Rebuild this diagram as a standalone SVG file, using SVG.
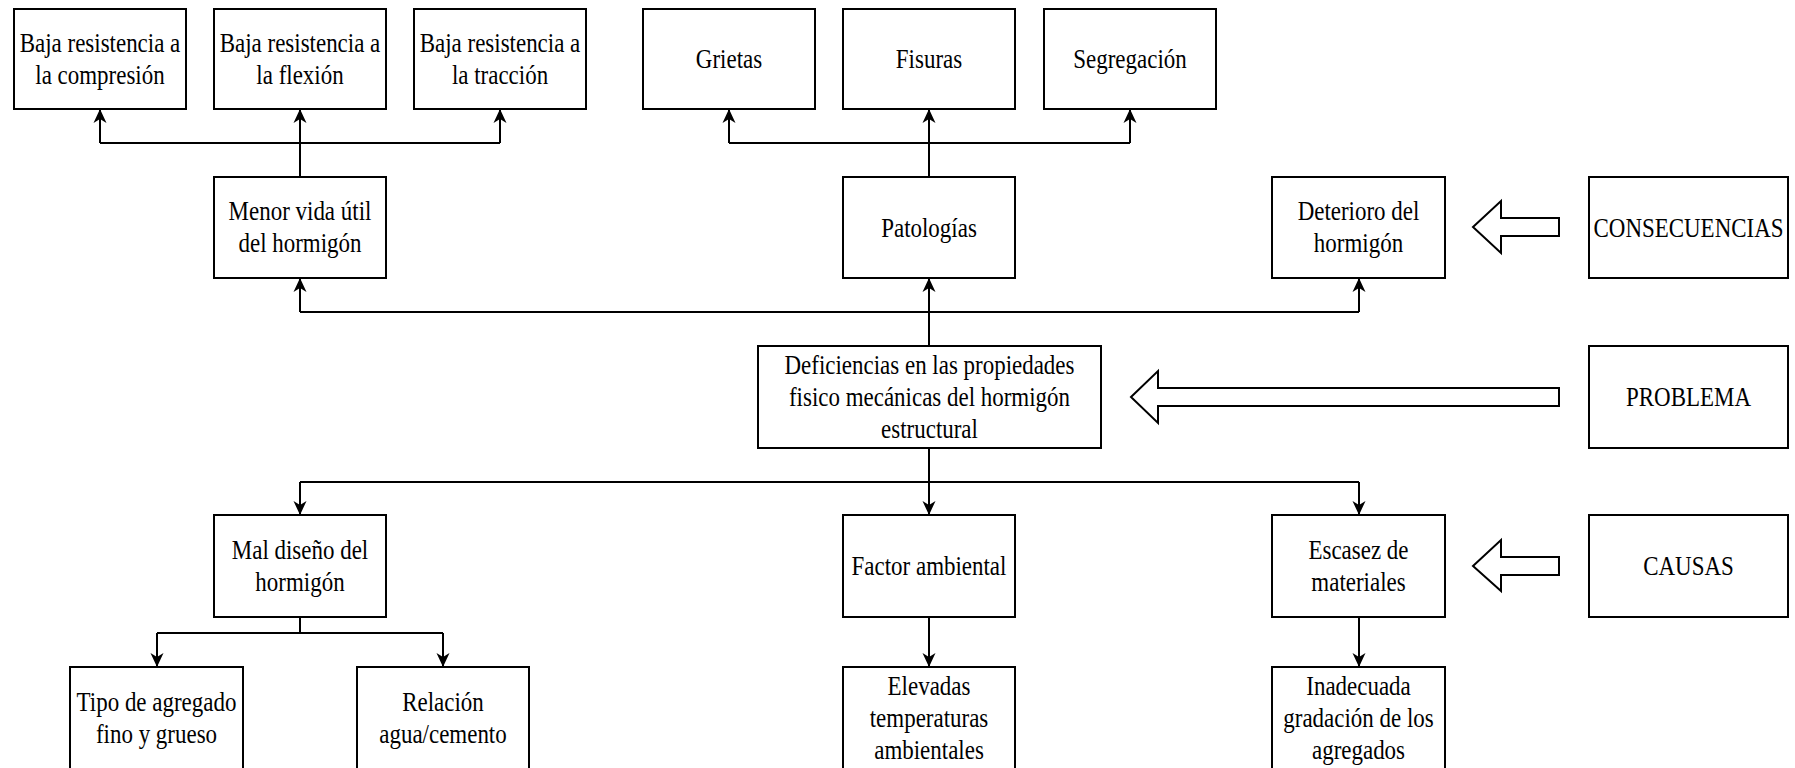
<svg xmlns="http://www.w3.org/2000/svg" width="1795" height="768" viewBox="0 0 1795 768">
<style>
.box{fill:#fff;stroke:#000;stroke-width:2}
.t{font-family:"Liberation Serif","Times New Roman",serif;font-size:28px;fill:#000;text-anchor:middle}
.c{fill:none;stroke:#000;stroke-width:2}
.blk{fill:#fff;stroke:#000;stroke-width:2;stroke-linejoin:miter}
</style>
<defs>
<marker id="ah" viewBox="0 0 14 14" refX="13" refY="7" markerWidth="14" markerHeight="14" markerUnits="userSpaceOnUse" orient="auto">
<path d="M0,0.5 L14,7 L0,13.5 L4,7 Z" fill="#000"/>
</marker>
</defs>
<rect width="1795" height="768" fill="#fff"/>

<g id="connectors">
<path class="c" d="M300,177 V143 M100,143 H500"/>
<path class="c" d="M100,143 V110" marker-end="url(#ah)"/>
<path class="c" d="M300,143 V110" marker-end="url(#ah)"/>
<path class="c" d="M500,143 V110" marker-end="url(#ah)"/>
<path class="c" d="M929,177 V143 M729,143 H1130"/>
<path class="c" d="M729,143 V110" marker-end="url(#ah)"/>
<path class="c" d="M929,143 V110" marker-end="url(#ah)"/>
<path class="c" d="M1130,143 V110" marker-end="url(#ah)"/>
<path class="c" d="M929,346 V312 M300,312 H1359"/>
<path class="c" d="M300,312 V279" marker-end="url(#ah)"/>
<path class="c" d="M929,312 V279" marker-end="url(#ah)"/>
<path class="c" d="M1359,312 V279" marker-end="url(#ah)"/>
<path class="c" d="M929,448 V482 M300,482 H1359"/>
<path class="c" d="M300,482 V514" marker-end="url(#ah)"/>
<path class="c" d="M929,482 V514" marker-end="url(#ah)"/>
<path class="c" d="M1359,482 V514" marker-end="url(#ah)"/>
<path class="c" d="M300,617 V633 M157,633 H443"/>
<path class="c" d="M157,633 V666" marker-end="url(#ah)"/>
<path class="c" d="M443,633 V666" marker-end="url(#ah)"/>
<path class="c" d="M929,617 V666" marker-end="url(#ah)"/>
<path class="c" d="M1359,617 V666" marker-end="url(#ah)"/>
<polygon class="blk" points="1473,227 1501,201 1501,218 1559,218 1559,236 1501,236 1501,253"/>
<polygon class="blk" points="1131,397 1158,371 1158,388 1559,388 1559,406 1158,406 1158,423"/>
<polygon class="blk" points="1473,566 1501,540 1501,557 1559,557 1559,575 1501,575 1501,591"/>
</g>

<g id="n1"><rect class="box" x="14" y="9" width="172" height="100"/><text class="t" transform="matrix(0.82 0 0 1 100 0)"><tspan x="0" y="52">Baja resistencia a</tspan><tspan x="0" y="84">la compresión</tspan></text></g>
<g id="n2"><rect class="box" x="214" y="9" width="172" height="100"/><text class="t" transform="matrix(0.82 0 0 1 300 0)"><tspan x="0" y="52">Baja resistencia a</tspan><tspan x="0" y="84">la flexión</tspan></text></g>
<g id="n3"><rect class="box" x="414" y="9" width="172" height="100"/><text class="t" transform="matrix(0.82 0 0 1 500 0)"><tspan x="0" y="52">Baja resistencia a</tspan><tspan x="0" y="84">la tracción</tspan></text></g>
<g id="n4"><rect class="box" x="643" y="9" width="172" height="100"/><text class="t" transform="matrix(0.82 0 0 1 729 0)"><tspan x="0" y="68">Grietas</tspan></text></g>
<g id="n5"><rect class="box" x="843" y="9" width="172" height="100"/><text class="t" transform="matrix(0.82 0 0 1 929 0)"><tspan x="0" y="68">Fisuras</tspan></text></g>
<g id="n6"><rect class="box" x="1044" y="9" width="172" height="100"/><text class="t" transform="matrix(0.82 0 0 1 1130 0)"><tspan x="0" y="68">Segregación</tspan></text></g>

<g id="n7"><rect class="box" x="214" y="177" width="172" height="101"/><text class="t" transform="matrix(0.82 0 0 1 300 0)"><tspan x="0" y="220">Menor vida útil</tspan><tspan x="0" y="252">del hormigón</tspan></text></g>
<g id="n8"><rect class="box" x="843" y="177" width="172" height="101"/><text class="t" transform="matrix(0.82 0 0 1 929 0)"><tspan x="0" y="237">Patologías</tspan></text></g>
<g id="n9"><rect class="box" x="1272" y="177" width="173" height="101"/><text class="t" transform="matrix(0.82 0 0 1 1358.5 0)"><tspan x="0" y="220">Deterioro del</tspan><tspan x="0" y="252">hormigón</tspan></text></g>
<g id="n10"><rect class="box" x="1589" y="177" width="199" height="101"/><text class="t" transform="matrix(0.82 0 0 1 1688.5 0)"><tspan x="0" y="237">CONSECUENCIAS</tspan></text></g>

<g id="n11"><rect class="box" x="758" y="346" width="343" height="102"/><text class="t" transform="matrix(0.82 0 0 1 929.5 0)"><tspan x="0" y="374">Deficiencias en las propiedades</tspan><tspan x="0" y="406">fisico mecánicas del hormigón</tspan><tspan x="0" y="438">estructural</tspan></text></g>
<g id="n12"><rect class="box" x="1589" y="346" width="199" height="102"/><text class="t" transform="matrix(0.82 0 0 1 1688.5 0)"><tspan x="0" y="406">PROBLEMA</tspan></text></g>

<g id="n13"><rect class="box" x="214" y="515" width="172" height="102"/><text class="t" transform="matrix(0.82 0 0 1 300 0)"><tspan x="0" y="559">Mal diseño del</tspan><tspan x="0" y="591">hormigón</tspan></text></g>
<g id="n14"><rect class="box" x="843" y="515" width="172" height="102"/><text class="t" transform="matrix(0.82 0 0 1 929 0)"><tspan x="0" y="575">Factor ambiental</tspan></text></g>
<g id="n15"><rect class="box" x="1272" y="515" width="173" height="102"/><text class="t" transform="matrix(0.82 0 0 1 1358.5 0)"><tspan x="0" y="559">Escasez de</tspan><tspan x="0" y="591">materiales</tspan></text></g>
<g id="n16"><rect class="box" x="1589" y="515" width="199" height="102"/><text class="t" transform="matrix(0.82 0 0 1 1688.5 0)"><tspan x="0" y="575">CAUSAS</tspan></text></g>

<g id="n17"><rect class="box" x="70" y="667" width="173" height="103"/><text class="t" transform="matrix(0.82 0 0 1 156.5 0)"><tspan x="0" y="711">Tipo de agregado</tspan><tspan x="0" y="743">fino y grueso</tspan></text></g>
<g id="n18"><rect class="box" x="357" y="667" width="172" height="103"/><text class="t" transform="matrix(0.82 0 0 1 443 0)"><tspan x="0" y="711">Relación</tspan><tspan x="0" y="743">agua/cemento</tspan></text></g>
<g id="n19"><rect class="box" x="843" y="667" width="172" height="103"/><text class="t" transform="matrix(0.82 0 0 1 929 0)"><tspan x="0" y="695">Elevadas</tspan><tspan x="0" y="727">temperaturas</tspan><tspan x="0" y="759">ambientales</tspan></text></g>
<g id="n20"><rect class="box" x="1272" y="667" width="173" height="103"/><text class="t" transform="matrix(0.82 0 0 1 1358.5 0)"><tspan x="0" y="695">Inadecuada</tspan><tspan x="0" y="727">gradación de los</tspan><tspan x="0" y="759">agregados</tspan></text></g>
</svg>
